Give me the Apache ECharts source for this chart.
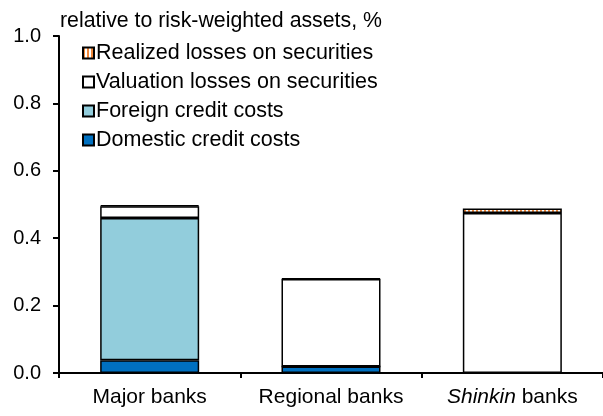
<!DOCTYPE html>
<html><head><meta charset="utf-8">
<script src="https://cdn.jsdelivr.net/npm/echarts@6/dist/echarts.min.js"></script>
<style>html,body{margin:0;padding:0;background:#fff}#c{width:603px;height:416px}</style>
</head><body><div id="c"></div>
<script>
const categories = ['Major banks', 'Regional banks', 'Shinkin banks'];
const domestic = [0.038, 0.019, 0.0];
const foreign = [0.422, 0.0, 0.0];
const valuation = [0.035, 0.260, 0.475];
const realized = [0.003, 0.002, 0.013];
const yTicks = [0, 0.2, 0.4, 0.6, 0.8, 1.0];

const pc = document.createElement('canvas');
pc.width = 4; pc.height = 4;
const g = pc.getContext('2d');
g.fillStyle = '#ffffff'; g.fillRect(0,0,4,4);
g.fillStyle = '#f0883a'; g.fillRect(0,0,2,4);
const stripe = {image: pc, repeat: 'repeat'};

const chart = echarts.init(document.getElementById('c'), null, {renderer:'canvas'});
const font = 'Liberation Sans, Arial, sans-serif';
const border = {borderColor:'#000', borderWidth:1.5};
function ser(name, data, color){
  return {name, type:'bar', stack:'a', data, barWidth:'54.6%',
    itemStyle:Object.assign({color}, border)};
}
chart.setOption({
  animation:false,
  textStyle:{fontFamily:font},
  grid:{left:59, right:-5, top:36, bottom:43},
  title:{text:'relative to risk-weighted assets, %', left:60, top:11, padding:0,
    textStyle:{fontFamily:font, fontSize:21.3, fontWeight:'normal', color:'#000'}},
  legend:{orient:'vertical', left:82, top:42, padding:0, itemWidth:11, itemHeight:11, itemGap:7,
    icon:'rect',
    data:['Realized losses on securities','Valuation losses on securities','Foreign credit costs','Domestic credit costs'],
    textStyle:{fontFamily:font, fontSize:21.5, color:'#000', padding:[0,0,0,-3]},
    itemStyle:{borderColor:'#000', borderWidth:2}},
  xAxis:{type:'category', data:categories,
    axisLine:{lineStyle:{color:'#000', width:2}},
    axisTick:{show:true, alignWithLabel:false, length:5, lineStyle:{color:'#000', width:2}},
    axisLabel:{interval:0, fontFamily:font, fontSize:21, color:'#000', margin:14,
      formatter:v => v==='Shinkin banks' ? '{i|Shinkin} banks' : v,
      rich:{i:{fontStyle:'italic', fontFamily:font, fontSize:21, color:'#000'}}}},
  yAxis:{type:'value', min:0, max:1, interval:0.2,
    axisLine:{show:true, lineStyle:{color:'#000', width:2}},
    axisTick:{show:true, length:6, lineStyle:{color:'#000', width:2}},
    splitLine:{show:false},
    axisLabel:{fontFamily:font, fontSize:20, color:'#000', margin:18,
      formatter:v => v.toFixed(1)}},
  series:[
    ser('Domestic credit costs', domestic, '#0070c0'),
    ser('Foreign credit costs', foreign, '#92cddc'),
    ser('Valuation losses on securities', valuation, '#ffffff'),
    ser('Realized losses on securities', realized, stripe)
  ]
});
</script></body></html>
